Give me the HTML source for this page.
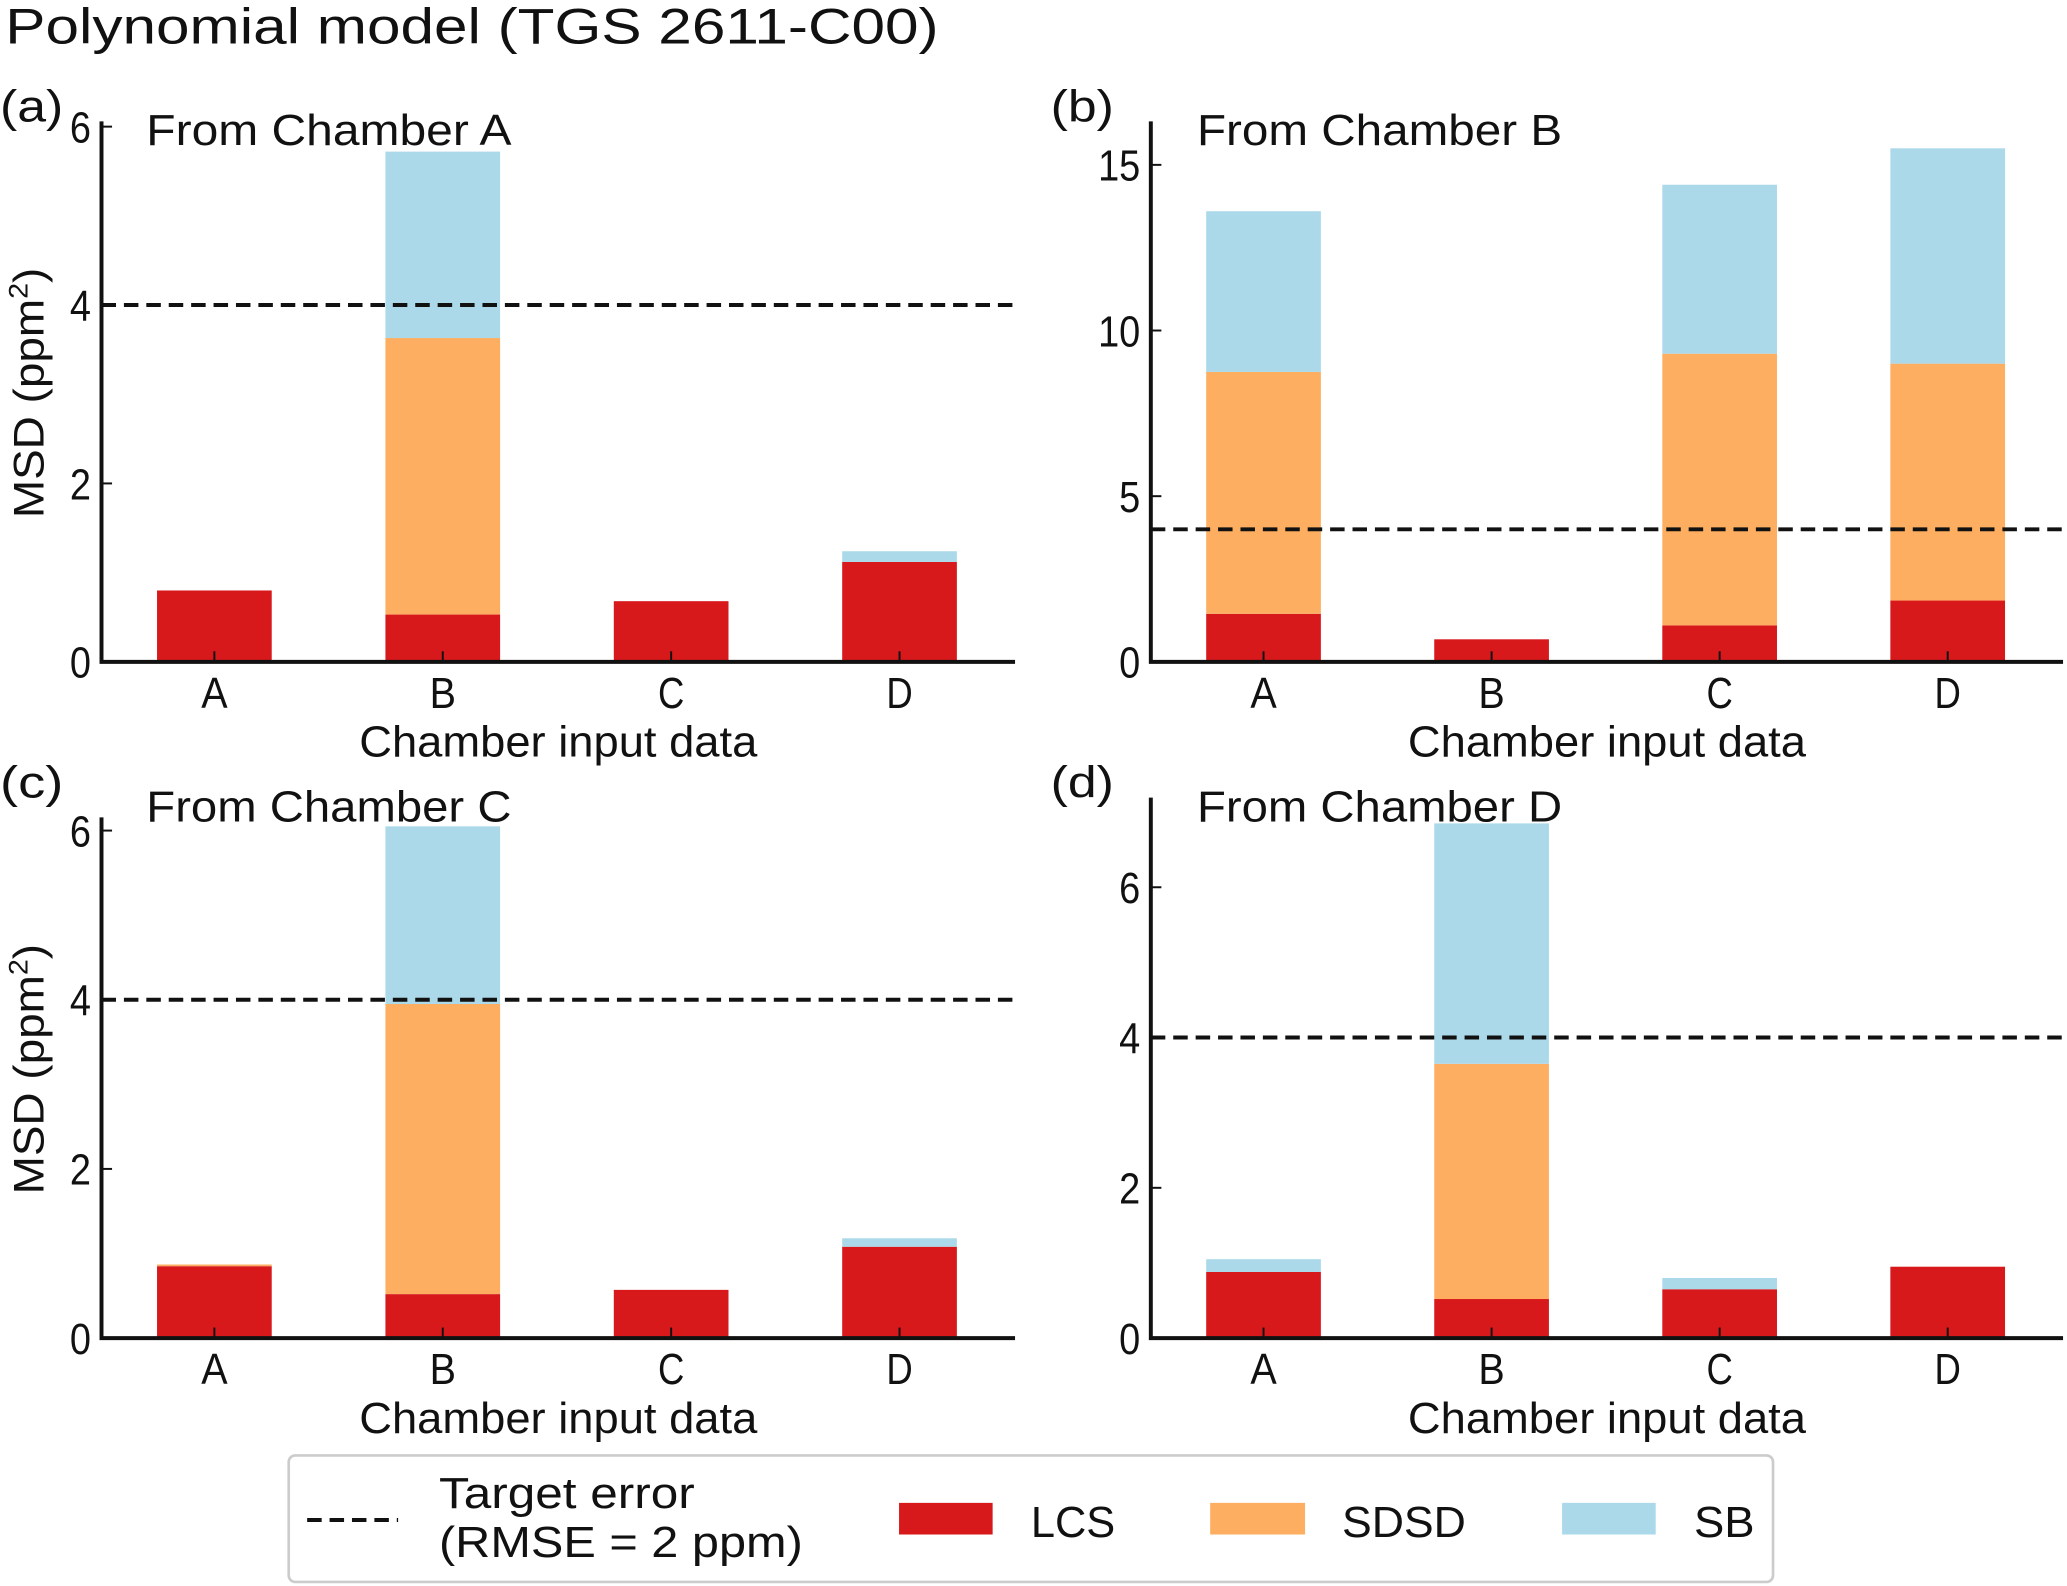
<!DOCTYPE html>
<html><head><meta charset="utf-8"><style>
html,body{margin:0;padding:0;background:#fff}
svg{display:block}
text{font-family:"Liberation Sans",sans-serif;fill:#111}
</style></head><body>
<svg id="fig" width="2067" height="1586" viewBox="0 0 1568 1203" xmlns="http://www.w3.org/2000/svg">
<text x="4" y="33" font-size="38" textLength="708" lengthAdjust="spacingAndGlyphs">Polynomial model (TGS 2611-C00)</text>
<g id="panels"></g>
<g>
<rect x="219" y="1104" width="1126" height="96" rx="5" fill="#fff" stroke="#ccc" stroke-width="2"/>
<line x1="233" y1="1153" x2="302" y2="1153" stroke="#111" stroke-width="3" stroke-dasharray="11,6"/>
<text x="333" y="1144" font-size="33" textLength="194" lengthAdjust="spacingAndGlyphs">Target error</text>
<text x="333" y="1181" font-size="33" textLength="276" lengthAdjust="spacingAndGlyphs">(RMSE = 2 ppm)</text>
<rect x="682" y="1140" width="71" height="24" fill="#d7191c"/>
<text x="782" y="1166" font-size="33" textLength="64" lengthAdjust="spacingAndGlyphs">LCS</text>
<rect x="918" y="1140" width="72" height="24" fill="#fdae61"/>
<text x="1018" y="1166" font-size="33" textLength="94" lengthAdjust="spacingAndGlyphs">SDSD</text>
<rect x="1185" y="1140" width="71" height="24" fill="#abd9e9"/>
<text x="1285" y="1166" font-size="33" textLength="46" lengthAdjust="spacingAndGlyphs">SB</text>
</g>
</svg>
<script>
const categories = ["A","B","C","D"];
const lcsA = [0.80, 0.53, 0.68, 1.12];
const sdsdA = [0.00, 3.10, 0.00, 0.00];
const sbA = [0.00, 2.09, 0.00, 0.12];
const lcsB = [1.45, 0.68, 1.10, 1.85];
const sdsdB = [7.30, 0.00, 8.20, 7.15];
const sbB = [4.85, 0.00, 5.10, 6.50];
const lcsC = [0.85, 0.52, 0.57, 1.08];
const sdsdC = [0.02, 3.43, 0.00, 0.00];
const sbC = [0.00, 2.10, 0.00, 0.10];
const lcsD = [0.88, 0.52, 0.65, 0.95];
const sdsdD = [0.00, 3.13, 0.00, 0.00];
const sbD = [0.17, 3.20, 0.15, 0.00];
const ticksA = [0,2,4,6];
const ticksB = [0,5,10,15];
const ticksC = [0,2,4,6];
const ticksD = [0,2,4,6];
const target = 4;

const panels = [
 {id:"a", lcs:lcsA, sdsd:sdsdA, sb:sbA, ticks:ticksA, x0:77, x1:770, y0:502, yTop:92, tickRef:6, tickRefY:96, ox:0, oy:0, title:"From Chamber A", ylabel:true},
 {id:"b", lcs:lcsB, sdsd:sdsdB, sb:sbB, ticks:ticksB, x0:873, x1:1565, y0:502, yTop:92, tickRef:15, tickRefY:125, ox:797, oy:0, title:"From Chamber B", ylabel:false},
 {id:"c", lcs:lcsC, sdsd:sdsdC, sb:sbC, ticks:ticksC, x0:77, x1:770, y0:1015, yTop:620, tickRef:6, tickRefY:630, ox:0, oy:513, title:"From Chamber C", ylabel:true},
 {id:"d", lcs:lcsD, sdsd:sdsdD, sb:sbD, ticks:ticksD, x0:873, x1:1565, y0:1015, yTop:605, tickRef:6, tickRefY:673, ox:797, oy:513, title:"From Chamber D", ylabel:false}
];
const NS="http://www.w3.org/2000/svg";
const root=document.getElementById("panels");
function mk(tag,attrs,parent){const e=document.createElementNS(NS,tag);for(const k in attrs)e.setAttribute(k,attrs[k]);parent.appendChild(e);return e;}
panels.forEach(p=>{
 const g=mk("g",{},root);
 
 
 const yScale=v=>p.y0-(p.y0-p.tickRefY)*v/p.tickRef;
 const step=(p.x1-p.x0)/4;
 const xScale=i=>p.x0+step*(i+0.5)-1;
 const bw=87;
 categories.forEach((c,i)=>{
  const segs=[[p.lcs[i],"#d7191c","lcs"],[p.sdsd[i],"#fdae61","sdsd"],[p.sb[i],"#abd9e9","sb"]];
  let base=0;
  segs.forEach(s=>{
   if(s[0]>0){
    const r=mk("rect",{x:xScale(i)-bw/2,y:yScale(base+s[0]),width:bw,height:yScale(base)-yScale(base+s[0]),fill:s[1]},g);
    
    
   }
   base+=s[0];
  });
  const t=mk("line",{x1:xScale(i),x2:xScale(i),y1:p.y0,y2:p.y0-8,stroke:"#111","stroke-width":1.5},g);
  
  
  const lb=mk("text",{x:xScale(i),y:p.y0+35,"font-size":33,"text-anchor":"middle",textLength:20,lengthAdjust:"spacingAndGlyphs"},g);
  lb.textContent=c;
  
  
 });
 p.ticks.forEach(v=>{
  const y=yScale(v);
  const t=mk("line",{x1:p.x0,x2:p.x0+8,y1:y,y2:y,stroke:"#111","stroke-width":1.5},g);
  
  
  const s=String(v);
  const lb=mk("text",{x:p.x0-8,y:y+12,"font-size":33,"text-anchor":"end",textLength:16*s.length,lengthAdjust:"spacingAndGlyphs"},g);
  lb.textContent=s;
  
  
 });
 const dl=mk("line",{x1:p.x0,x2:p.x1,y1:yScale(target),y2:yScale(target),stroke:"#111","stroke-width":3,"stroke-dasharray":"11,6"},g);
 
 
 const ax=mk("path",{d:`M${p.x0},${p.yTop} V${p.y0} H${p.x1}`,fill:"none",stroke:"#111","stroke-width":3},g);
 
 
 const pl=mk("text",{x:p.ox+0,y:p.oy+92,"font-size":34,textLength:48,lengthAdjust:"spacingAndGlyphs"},g);
 pl.textContent="("+p.id+")";
 
 
 const ti=mk("text",{x:p.ox+111,y:p.oy+110,"font-size":33,textLength:277,lengthAdjust:"spacingAndGlyphs"},g);
 ti.textContent=p.title;
 
 
 const xl=mk("text",{x:(p.x0+p.x1)/2,y:p.y0+72,"font-size":33,"text-anchor":"middle",textLength:302,lengthAdjust:"spacingAndGlyphs"},g);
 xl.textContent="Chamber input data";
 
 
 if(p.ylabel){
  const cy=p.oy+298;
  const yl=mk("text",{x:0,y:0,"font-size":32,"text-anchor":"middle",transform:`translate(33,${cy}) rotate(-90)`,textLength:190,lengthAdjust:"spacingAndGlyphs"},g);
  
  
  yl.appendChild(document.createTextNode("MSD (ppm"));
  const sup=mk("tspan",{"font-size":20,dy:-12},yl);
  sup.textContent="2";
  const cl=mk("tspan",{dy:12},yl);
  cl.textContent=")";
 }
});
</script>
</body></html>
